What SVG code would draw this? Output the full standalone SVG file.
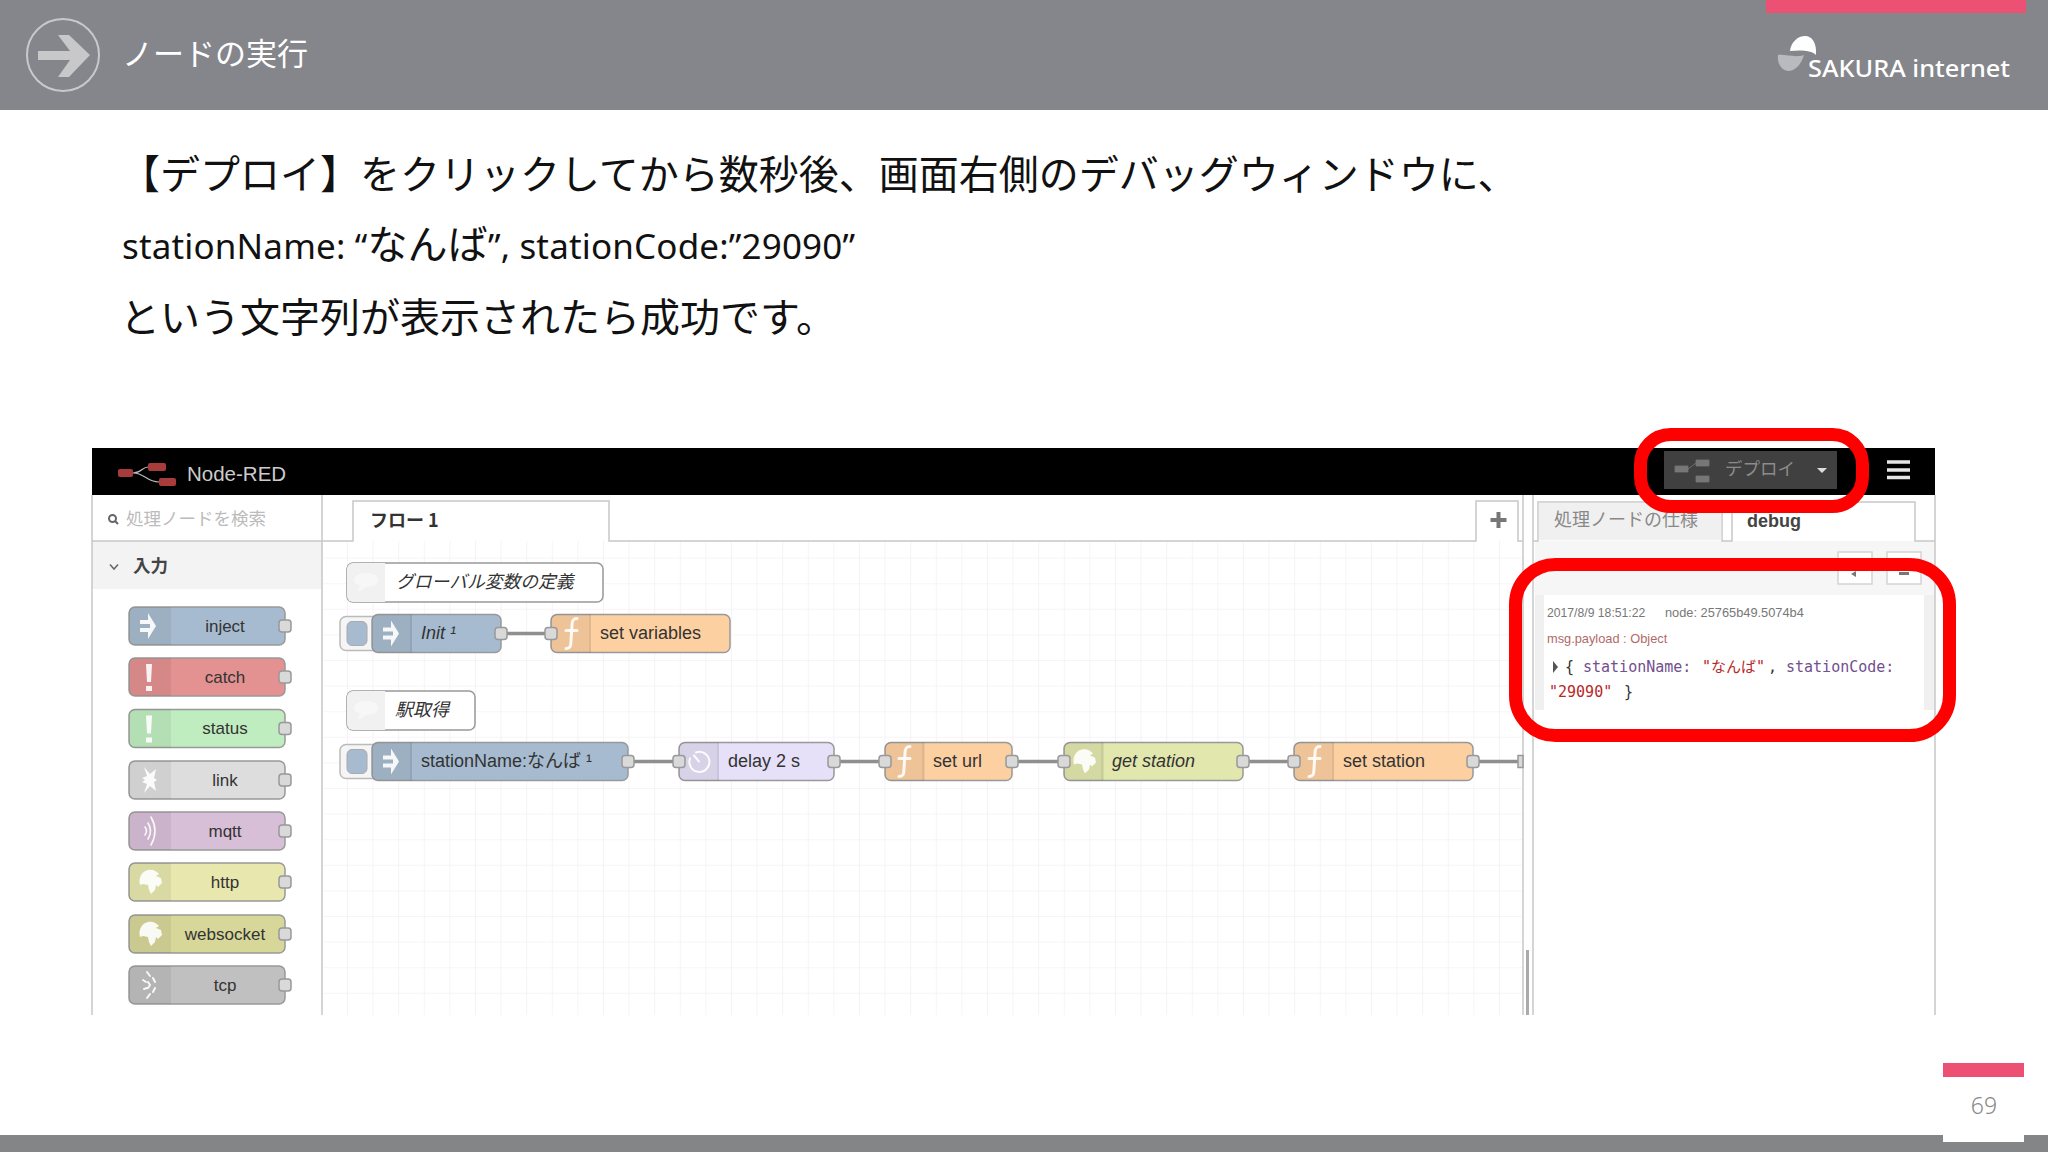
<svg xmlns="http://www.w3.org/2000/svg" xmlns:xlink="http://www.w3.org/1999/xlink" width="2048" height="1152" viewBox="0 0 2048 1152">
<style>
.jp{font-family:"Noto Sans CJK JP","Noto Sans",sans-serif}
.main{font-size:40px;fill:#111}
.lat{font-family:"Noto Sans","Noto Sans CJK JP",sans-serif;font-size:35px;fill:#111}
.ui{font-family:"Liberation Sans","Noto Sans CJK JP",sans-serif}
.n{stroke:#999;stroke-width:1.5}
.lab{font-family:"Liberation Sans","Noto Sans CJK JP",sans-serif;font-size:18px;fill:#333}
.pal{font-size:17px;text-anchor:middle}
.it{font-style:italic}
.port{fill:#d9d9d9;stroke:#999;stroke-width:1.5}
.shade{fill:#000;fill-opacity:.06}
.div{stroke:#000;stroke-opacity:.12;stroke-width:1}
.w{fill:#fff;fill-opacity:.9}
.ws{fill:none;stroke:#fff;stroke-opacity:.9;stroke-linecap:round}
.wire{stroke:#8f8f8f;stroke-width:3.5;fill:none}
.frame{stroke:#c8c8c8;stroke-width:1.5;fill:none}
.redbox{fill:none;stroke:#f00;stroke-width:13}
.mono{font-family:"DejaVu Sans Mono","Noto Sans CJK JP",monospace;font-size:15px}
.key{fill:#72508d}.str{fill:#b72828}.pun{fill:#333}
.inject{fill:#a6bbcf}.catch{fill:#e49191}.status{fill:#c0edc0}.link{fill:#ddd}.mqtt{fill:#d8bfd8}.http{fill:#e7e7ae}.wsock{fill:#d7d79a}.tcp{fill:#c0c0c0}.func{fill:#fdd0a2}.delay{fill:#e6e0f8}.get{fill:#e2e7ae}.comment{fill:#fff}
</style>
<defs>
<pattern id="grid" patternUnits="userSpaceOnUse" x="347" y="788" width="25.6" height="25.6"><path d="M0 0H25.6M0 0V25.6" fill="none" stroke="#efebf1" stroke-width="1.2"/></pattern>
<path id="sh" d="M6 0H40V38H6a6 6 0 0 1-6-6V6a6 6 0 0 1 6-6z" class="shade"/>
<path id="i-inject" class="w" d="M-8-6H0V-13L8 0 0 13V6H-8V2H2V-2H-8Z"/>
<path id="i-excl" class="w" d="M-3-13H3L2 5H-2ZM-3 9H3V14H-3Z"/>
<path id="i-link" class="w" d="M-5-13 1-6 7-11 5-2 8 0 5 2 7 11 1 6-5 13-2 4-7 2-4 0-7-2-2-4Z"/>
<g id="i-mqtt" class="ws" stroke-width="1.6"><path d="M-4-4Q-1 0-4 4M-1-8Q4 0-1 8M2-14Q10 0 2 14"/></g>
<g id="i-tcp" class="ws" stroke-width="2"><path d="M-2-13 1-9M-6-5-3-3M-5 4-2 3M-2 13 1 9M4-7 6-3M4 7 6 3M-1-3 1 0-1 3"/></g>
<path id="i-globe" class="w" d="M-2-12C3-13 6-11 9-8L6-6 11-4 12 1 8 5 6 3 5 8 1 12-1 8-2 3-7 2-10 3C-12-4-8-11-2-12Z"/>
<path id="i-f" class="ws" stroke-width="3" fill="none" d="M6-15C2-15 1-13 1-8L0 7C0 13-1 15-5 15M-5-3H6"/>
<g id="i-delay" class="ws" stroke-width="2"><path d="M-3-9A10 10 0 1 1-9-3M0 0-5-6"/></g>
<path id="i-comment" d="M-12 0C-12-6-6-8 0-8 6-8 12-6 12-1 12 4 6 6 0 6L-8 11-6 4C-10 4-12 2-12 0Z" fill="#f7f7f7"/>
</defs>
<rect width="2048" height="1152" fill="#fff"/>

<g id="header">
<rect width="2048" height="110" fill="#85868b"/>
<rect x="1766" width="260" height="13" fill="#ec5173"/>
<ellipse cx="63" cy="55" rx="36" ry="36" fill="none" stroke="#c9c9cc" stroke-width="2"/>
<path d="M38 51H70L58 35H69L90 55 69 77H58L70 60H38Z" fill="#c8c8cb"/>
<text x="122" y="65" class="jp" font-size="31" fill="#fff">ノードの実行</text>
<path d="M1790 51C1791 42 1798 36 1805 36 1812 36 1817 43 1816 55 1811 50 1800 50 1790 51Z" fill="#fff"/>
<path d="M1778 55C1785 54 1796 58 1804 55 1801 65 1795 71 1788 71 1781 70 1777 63 1778 55Z" fill="#b9babd"/>
<text x="1808" y="77" font-family="Noto Sans, sans-serif" font-size="24" font-weight="500" fill="#fff" textLength="202" lengthAdjust="spacingAndGlyphs">SAKURA internet</text>
</g>

<g id="body-text">
<text x="120" y="189" class="jp main">【デプロイ】をクリックしてから数秒後、画面右側のデバッグウィンドウに、</text>
<text x="122" y="259" class="lat" textLength="733">stationName: “<tspan font-size="40" font-family="Noto Sans CJK JP">なんば</tspan>”, stationCode:”29090”</text>
<text x="120" y="332" class="jp main">という文字列が表示されたら成功です。</text>
</g>

<g id="footer">
<rect y="1135" width="2048" height="17" fill="#838586"/>
<rect x="1943" y="1077" width="81" height="65" fill="#fff"/>
<rect x="1943" y="1063" width="81" height="14" fill="#ec5173"/>
<text x="1984" y="1114" font-family="Noto Sans, sans-serif" font-size="23" font-weight="300" fill="#888" text-anchor="middle">69</text>
</g>

<g id="editor-frame">
<rect x="322" y="541" width="1201" height="474" fill="url(#grid)"/>
<rect x="92" y="541" width="230" height="48" fill="#f3f3f3"/>
<rect x="1535" y="541" width="400" height="54" fill="#f6f6f6"/>
<rect x="1535" y="595" width="400" height="115" fill="#f0f0f0"/>
<rect x="1544" y="595" width="380" height="115" fill="#fff"/>
<rect x="92" y="448" width="1843" height="47" fill="#000"/>
<path class="frame" d="M92 495V1015M322 495V1015M1523 495V1015M1533 495V1015M1935 495V1015M92 541H353V501H609V541H1476V501H1518V541H1523M1533 541H1538V502H1722V541H1732V502H1915V541H1935"/>
<path d="M1527.500 950V1015" stroke="#aaa" stroke-width="3"/>
<path d="M1498.500 512V528M1490.500 520H1506.500" stroke="#777" stroke-width="4"/>
<rect x="1538.800" y="502.800" width="182.500" height="37.500" fill="#f0f0f0"/>
<path d="M1838 584V552H1872V584ZM1887 584V552H1921V584Z" fill="#fff" stroke="#d4d4d4" stroke-width="1.500"/>
<path d="M1856 571 1851 574 1856 577ZM1899 572H1909V575H1899Z" fill="#777"/>
<circle cx="112.500" cy="518.500" r="3.500" fill="none" stroke="#666" stroke-width="2"/>
<path d="M115 521 118 524" stroke="#666" stroke-width="2"/>
<text x="126" y="525" class="jp" font-size="17.500" fill="#bbb">処理ノードを検索</text>
<path d="M110 564.500 114 569 118 564.500" fill="none" stroke="#666" stroke-width="1.500"/>
<text x="133" y="572" class="jp" font-size="17.500" font-weight="700" fill="#444">入力</text>
<text x="370" y="527" class="jp" font-size="18" font-weight="700" fill="#333">フロー 1</text>
<text x="1554" y="526" class="jp" font-size="18" fill="#888">処理ノードの仕様</text>
<text x="1747" y="527" class="ui" font-size="18" font-weight="700" fill="#444">debug</text>
</g>

<g id="title-bar">
<rect x="118" y="469" width="15" height="8" rx="2" fill="#a83c3c"/>
<rect x="148" y="463" width="18" height="8" rx="2" fill="#a83c3c"/>
<rect x="159" y="478" width="17" height="8" rx="2" fill="#a83c3c"/>
<path d="M133 473C142 473 142 467 148 467M133 473C145 473 146 482 159 482" fill="none" stroke="#bbb" stroke-width="1.200"/>
<text x="187" y="481" class="ui" font-size="20.500" fill="#ccc">Node-RED</text>
<rect x="1664" y="451" width="173" height="38" fill="#404040"/>
<path d="M1675 466H1688V472H1675ZM1696 460H1709V466H1696ZM1696 476H1709V482H1696ZM1688 469 1696 463" fill="#777" stroke="#777" stroke-width=".8"/>
<text x="1725" y="475" class="jp" font-size="17.500" fill="#8c8c8c">デプロイ</text>
<path d="M1817 468H1827L1822 473Z" fill="#ddd"/>
<path d="M1887 462H1910M1887 470H1910M1887 477.500H1910" stroke="#e6e6e6" stroke-width="3.500"/>
</g>

<g id="connectors">
<path class="wire" d="M501 633.500H551"/>
<path class="wire" d="M628 761.500H679"/>
<path class="wire" d="M834 761.500H885"/>
<path class="wire" d="M1012 761.500H1064"/>
<path class="wire" d="M1243 761.500H1294"/>
<path class="wire" d="M1473 761.500H1522"/>
</g>

<g id="palette-inject" transform="translate(129,607)"><rect class="n inject" width="156" height="38" rx="6"/><use href="#sh"/><path class="div" d="M41 0V38"/><use href="#i-inject" x="19" y="19"/><rect class="port" x="150" y="13" width="12" height="12" rx="3"/><text class="lab pal" x="96" y="24.500">inject</text></g>
<g id="palette-catch" transform="translate(129,658)"><rect class="n catch" width="156" height="38" rx="6"/><use href="#sh"/><path class="div" d="M41 0V38"/><use href="#i-excl" x="20" y="19"/><rect class="port" x="150" y="13" width="12" height="12" rx="3"/><text class="lab pal" x="96" y="24.500">catch</text></g>
<g id="palette-status" transform="translate(129,709.500)"><rect class="n status" width="156" height="38" rx="6"/><use href="#sh"/><path class="div" d="M41 0V38"/><use href="#i-excl" x="20" y="19"/><rect class="port" x="150" y="13" width="12" height="12" rx="3"/><text class="lab pal" x="96" y="24.500">status</text></g>
<g id="palette-link" transform="translate(129,761)"><rect class="n link" width="156" height="38" rx="6"/><use href="#sh"/><path class="div" d="M41 0V38"/><use href="#i-link" x="20" y="19"/><rect class="port" x="150" y="13" width="12" height="12" rx="3"/><text class="lab pal" x="96" y="24.500">link</text></g>
<g id="palette-mqtt" transform="translate(129,812)"><rect class="n mqtt" width="156" height="38" rx="6"/><use href="#sh"/><path class="div" d="M41 0V38"/><use href="#i-mqtt" x="20" y="19"/><rect class="port" x="150" y="13" width="12" height="12" rx="3"/><text class="lab pal" x="96" y="24.500">mqtt</text></g>
<g id="palette-http" transform="translate(129,863)"><rect class="n http" width="156" height="38" rx="6"/><use href="#sh"/><path class="div" d="M41 0V38"/><use href="#i-globe" x="21" y="19"/><rect class="port" x="150" y="13" width="12" height="12" rx="3"/><text class="lab pal" x="96" y="24.500">http</text></g>
<g id="palette-websocket" transform="translate(129,915)"><rect class="n wsock" width="156" height="38" rx="6"/><use href="#sh"/><path class="div" d="M41 0V38"/><use href="#i-globe" x="21" y="19"/><rect class="port" x="150" y="13" width="12" height="12" rx="3"/><text class="lab pal" x="96" y="24.500">websocket</text></g>
<g id="palette-tcp" transform="translate(129,966)"><rect class="n tcp" width="156" height="38" rx="6"/><use href="#sh"/><path class="div" d="M41 0V38"/><use href="#i-tcp" x="20" y="19"/><rect class="port" x="150" y="13" width="12" height="12" rx="3"/><text class="lab pal" x="96" y="24.500">tcp</text></g>

<g id="comment-globals" transform="translate(347,563)"><rect class="n comment" width="256" height="39" rx="6"/><path d="M6 0H38V39H6a6 6 0 0 1-6-6V6a6 6 0 0 1 6-6z" fill="#f1f1f1"/><use href="#i-comment" x="19" y="18"/><text class="lab it" x="49" y="25" style="font-size:17.800px">グローバル変数の定義</text></g>
<g id="comment-station" transform="translate(347,691)"><rect class="n comment" width="128" height="39" rx="6"/><path d="M6 0H38V39H6a6 6 0 0 1-6-6V6a6 6 0 0 1 6-6z" fill="#f1f1f1"/><use href="#i-comment" x="19" y="18"/><text class="lab it" x="48" y="25">駅取得</text></g>

<g id="node-init" transform="translate(372,614.500)"><rect x="-32" y="2" width="40" height="34" rx="6" fill="#f5f5f5" stroke="#bbb" stroke-width="1.500"/><rect x="-25" y="7" width="20" height="24" rx="5" class="inject" stroke="#aaa"/><rect class="n inject" width="129" height="38" rx="6"/><use href="#sh"/><path class="div" d="M39 0V38"/><use href="#i-inject" x="19" y="19"/><rect class="port" x="123" y="13" width="12" height="12" rx="3"/><text class="lab it" x="49" y="24.500">Init ¹</text></g>
<g id="node-set-variables" transform="translate(551,614.500)"><rect class="n func" width="179" height="38" rx="6"/><use href="#sh"/><path class="div" d="M39 0V38"/><use href="#i-f" x="20" y="19"/><rect class="port" x="-6" y="13" width="12" height="12" rx="3"/><text class="lab" x="49" y="24.500">set variables</text></g>
<g id="node-stationname" transform="translate(372,742.500)"><rect x="-32" y="2" width="40" height="34" rx="6" fill="#f5f5f5" stroke="#bbb" stroke-width="1.500"/><rect x="-25" y="7" width="20" height="24" rx="5" class="inject" stroke="#aaa"/><rect class="n inject" width="256" height="38" rx="6"/><use href="#sh"/><path class="div" d="M39 0V38"/><use href="#i-inject" x="19" y="19"/><rect class="port" x="250" y="13" width="12" height="12" rx="3"/><text class="lab" x="49" y="24.500">stationName:なんば ¹</text></g>
<g id="node-delay" transform="translate(679,742.500)"><rect class="n delay" width="155" height="38" rx="6"/><use href="#sh"/><path class="div" d="M39 0V38"/><use href="#i-delay" x="20" y="19"/><rect class="port" x="-6" y="13" width="12" height="12" rx="3"/><rect class="port" x="149" y="13" width="12" height="12" rx="3"/><text class="lab" x="49" y="24.500">delay 2 s</text></g>
<g id="node-set-url" transform="translate(885,742.500)"><rect class="n func" width="127" height="38" rx="6"/><use href="#sh"/><path class="div" d="M38 0V38"/><use href="#i-f" x="19" y="19"/><rect class="port" x="-6" y="13" width="12" height="12" rx="3"/><rect class="port" x="121" y="13" width="12" height="12" rx="3"/><text class="lab" x="48" y="24.500">set url</text></g>
<g id="node-get-station" transform="translate(1064,742.500)"><rect class="n get" width="179" height="38" rx="6"/><use href="#sh"/><path class="div" d="M38 0V38"/><use href="#i-globe" x="20" y="19"/><rect class="port" x="-6" y="13" width="12" height="12" rx="3"/><rect class="port" x="173" y="13" width="12" height="12" rx="3"/><text class="lab it" x="48" y="24.500">get station</text></g>
<g id="node-set-station" transform="translate(1294,742.500)"><rect class="n func" width="179" height="38" rx="6"/><use href="#sh"/><path class="div" d="M39 0V38"/><use href="#i-f" x="20" y="19"/><rect class="port" x="-6" y="13" width="12" height="12" rx="3"/><rect class="port" x="173" y="13" width="12" height="12" rx="3"/><text class="lab" x="49" y="24.500">set station</text></g>
<path d="M1523 755.500H1518V767.500H1523Z" class="port"/>

<g id="debug-message">
<text x="1547" y="617" class="ui" font-size="12.200" fill="#777">2017/8/9 18:51:22</text>
<text x="1665" y="617" class="ui" font-size="12.800" fill="#777">node: 25765b49.5074b4</text>
<text x="1547" y="643" class="ui" font-size="12.800" fill="#b06a6a">msg.payload : Object</text>
<path d="M1553 661 1558 667 1553 673Z" fill="#555"/>
<text x="1565" y="672" class="mono"><tspan class="pun">{</tspan><tspan class="key" x="1583">stationName:</tspan><tspan class="str" x="1702">"なんば"</tspan><tspan class="pun" x="1768">,</tspan><tspan class="key" x="1786">stationCode:</tspan></text>
<text x="1549" y="697" class="mono"><tspan class="str">"29090"</tspan><tspan class="pun" x="1624">}</tspan></text>
</g>

<g id="highlights">
<rect class="redbox" x="1640.500" y="434.500" width="222" height="72" rx="30"/>
<rect class="redbox" x="1515.500" y="564.500" width="434" height="171" rx="40"/>
</g>
</svg>
